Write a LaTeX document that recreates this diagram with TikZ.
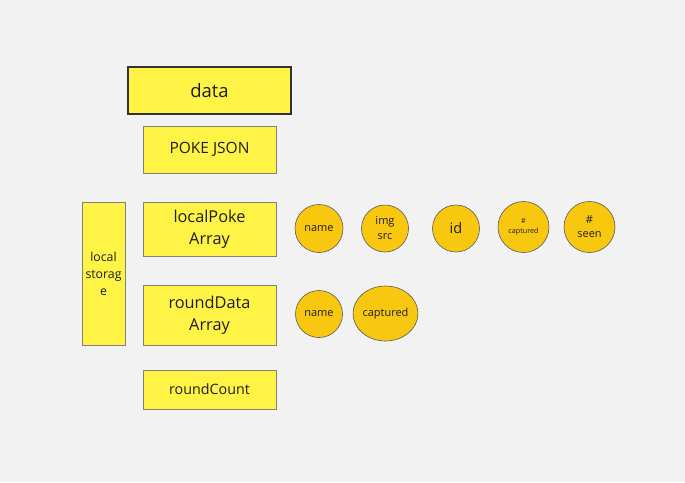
\documentclass[tikz,border=0pt]{standalone}
\usepackage{fontspec}
\usetikzlibrary{shapes.geometric}
\setmainfont{Open Sans}
\definecolor{bg}{HTML}{F2F2F2}
\definecolor{boxy}{HTML}{FFF345}
\definecolor{circy}{HTML}{F8C70F}
\definecolor{boxline}{HTML}{808080}
\definecolor{txt}{HTML}{1E1E1E}
\begin{document}
\begin{tikzpicture}[x=1pt,y=-1pt,
  box/.style={draw=boxline,line width=0.8pt,fill=boxy,rectangle,inner sep=0pt,text=txt,align=center},
  field/.style={draw=black!65,line width=0.6pt,fill=circy,ellipse,inner sep=0pt,text=txt,align=center},
]
\fill[bg] (0,0) rectangle (685,482);
\useasboundingbox (0,0) rectangle (685,482);
% boxes
\node[box,draw=black!80,line width=1.3pt,minimum width=163pt,minimum height=47pt,font=\fontsize{18.5}{22}\selectfont] (data) at (209.5,90.5) {data};
\node[box,minimum width=133pt,minimum height=47pt,font=\fontsize{15.5}{18}\selectfont] (json) at (209.5,149.5) {POKE JSON};
\node[box,minimum width=133pt,minimum height=54pt,font=\fontsize{16.3}{22}\selectfont] (lpa) at (209.5,229) {localPoke\\Array};
\node[box,minimum width=133pt,minimum height=60pt,font=\fontsize{16.3}{22}\selectfont] (rda) at (209.5,315) {roundData\\Array};
\node[box,minimum width=133pt,minimum height=39pt,font=\fontsize{14.3}{18}\selectfont] (rc) at (209.5,389.5) {roundCount};
\node[box,minimum width=43pt,minimum height=143pt,font=\fontsize{12.3}{17}\selectfont] (ls) at (103.5,273.5) {local\\storag\\e};
% fields
\node[field,circle,minimum size=48pt,font=\fontsize{11}{14}\selectfont] (n1) at (319,228.5) {name};
\node[field,circle,minimum size=47pt,font=\fontsize{11}{15}\selectfont] (img) at (385,228.5) {img\\src};
\node[field,circle,minimum size=47pt,font=\fontsize{14.5}{16}\selectfont] (id) at (456,228.5) {id};
\node[field,circle,minimum size=51pt,font=\fontsize{7.2}{10}\selectfont] (cap1) at (523.5,227) {\#\\captured};
\node[field,circle,minimum size=51pt,font=\fontsize{11}{14}\selectfont] (seen) at (589.5,227) {\#\\seen};
\node[field,circle,minimum size=47pt,font=\fontsize{11}{14}\selectfont] (n2) at (319,314) {name};
\node[field,minimum width=65pt,minimum height=55pt,font=\fontsize{11}{14}\selectfont] (cap2) at (385.5,313.5) {captured};
\end{tikzpicture}
\end{document}
